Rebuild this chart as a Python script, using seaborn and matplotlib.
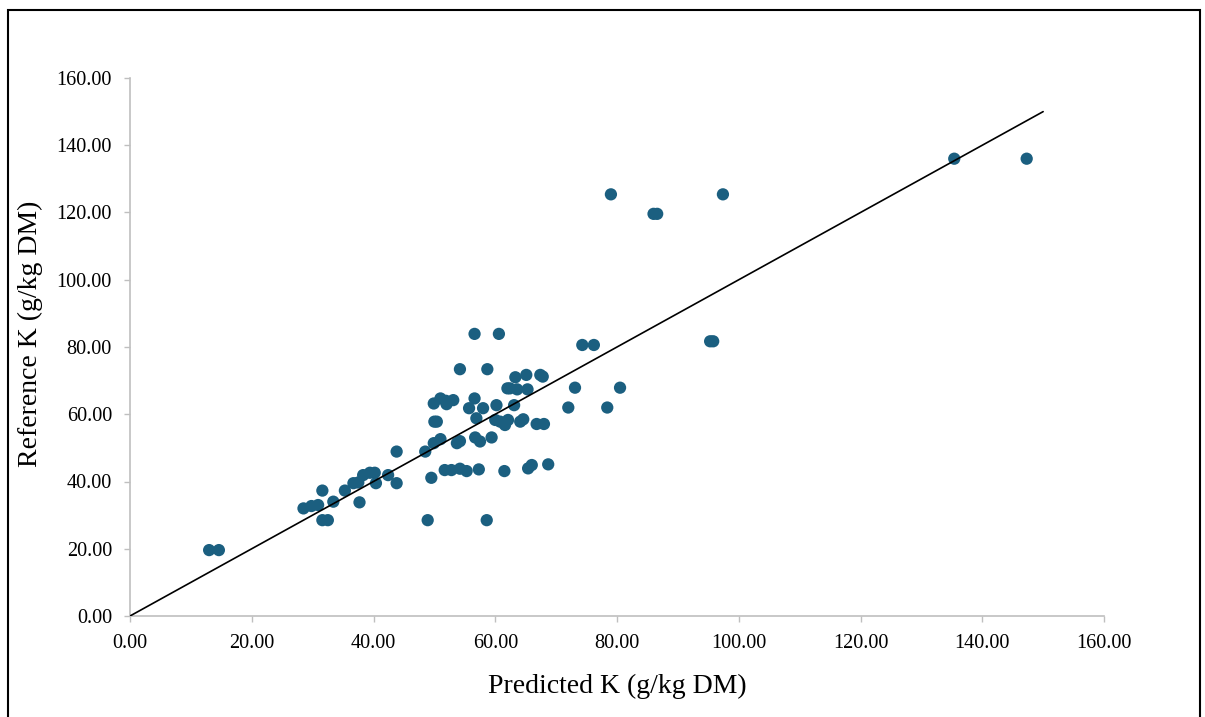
import matplotlib
matplotlib.use("Agg")
import matplotlib.pyplot as plt
import matplotlib.patches as mpatches
from matplotlib.ticker import FormatStrFormatter
import seaborn as sns
import pandas as pd

predicted_k = [13.0, 14.6, 28.5, 29.8, 30.9, 31.6, 32.5, 31.6, 33.4, 35.3,
               36.7, 37.5, 37.7, 38.3, 39.4, 40.2, 40.4, 42.4, 43.8, 43.8,
               48.5, 48.9, 49.5, 49.9, 51.0, 50.0, 50.4, 49.9, 51.0, 51.9,
               52.0, 53.1, 51.7, 52.8, 54.2, 55.3, 57.3, 53.7, 54.2, 54.2,
               55.7, 56.6, 56.6, 56.7, 57.5, 56.9, 58.0, 58.6, 58.7, 59.4,
               60.0, 60.2, 60.6, 60.8, 61.5, 61.6, 62.1, 62.0, 62.4, 63.1,
               63.3, 63.6, 64.1, 64.6, 65.1, 65.3, 65.4, 66.0, 66.8, 68.0,
               67.4, 67.8, 68.7, 72.0, 73.1, 74.3, 76.2, 78.4, 80.5, 79.0,
               86.0, 86.6, 95.3, 95.8, 97.4, 135.4, 147.3]
reference_k = [19.6, 19.6, 32.0, 32.7, 33.0, 28.5, 28.5, 37.3, 34.0, 37.3,
               39.5, 39.7, 33.8, 41.9, 42.6, 42.6, 39.5, 41.9, 39.5, 48.9,
               48.9, 28.5, 41.1, 51.4, 52.6, 57.8, 57.8, 63.2, 64.7, 64.0,
               63.0, 64.2, 43.4, 43.4, 43.8, 43.1, 43.6, 51.4, 52.0, 73.4,
               61.8, 64.7, 83.9, 53.1, 51.9, 58.8, 61.8, 28.5, 73.4, 53.1,
               58.3, 62.7, 83.9, 57.8, 43.1, 56.8, 58.3, 67.7, 67.7, 62.7,
               71.0, 67.4, 57.8, 58.5, 71.7, 67.4, 43.9, 44.9, 57.1, 57.1,
               71.7, 71.2, 45.1, 62.0, 67.9, 80.6, 80.6, 62.0, 67.9, 125.4,
               119.6, 119.6, 81.7, 81.7, 125.4, 136.0, 136.0]

line_x = [0.0, 150.0]
line_y = [0.0, 150.0]

x_ticks = [0, 20, 40, 60, 80, 100, 120, 140, 160]
y_ticks = [0, 20, 40, 60, 80, 100, 120, 140, 160]

x_label = "Predicted K (g/kg DM)"
y_label = "Reference K (g/kg DM)"

df = pd.DataFrame({"pred": predicted_k, "ref": reference_k})

sns.set_theme(style="white")
plt.rcParams["font.family"] = ["Liberation Serif", "DejaVu Serif"]

fig = plt.figure(figsize=(12.05, 7.17), dpi=100)
W, H = 1205, 717
ax = fig.add_axes([130 / W, 1 - 616 / H, (1104 - 130) / W, (616 - 78) / H])

sns.lineplot(x=line_x, y=line_y, color="black", linewidth=1.2, ax=ax, zorder=3)
sns.scatterplot(data=df, x="pred", y="ref", color="#1b5f80", s=78,
                edgecolor="none", linewidth=0, ax=ax, zorder=2)

ax.set_xlim(0, 160)
ax.set_ylim(0, 160)
ax.set_xticks(x_ticks)
ax.set_yticks(y_ticks)
ax.xaxis.set_major_formatter(FormatStrFormatter("%.2f"))
ax.yaxis.set_major_formatter(FormatStrFormatter("%.2f"))

for side in ["top", "right"]:
    ax.spines[side].set_visible(False)
for side in ["left", "bottom"]:
    ax.spines[side].set_color("#BFBFBF")
    ax.spines[side].set_linewidth(1.2)

ax.tick_params(axis="both", which="major", direction="out", length=4,
               width=1.0, color="#BFBFBF", labelsize=14.6, labelcolor="black",
               pad=9)
ax.tick_params(axis="x", bottom=True)
ax.tick_params(axis="y", left=True)

ax.set_xlabel("")
ax.set_ylabel("")
fig.text(617 / W, 1 - 686 / H, x_label, ha="center", va="center",
         fontsize=20, color="black")
fig.text(30 / W, 1 - 334 / H, y_label, ha="center", va="center",
         rotation=90, fontsize=20, color="black")

border = mpatches.Rectangle((8 / W, -0.01), (1200 - 8) / W, 1 - 10 / H + 0.01,
                            transform=fig.transFigure, fill=False,
                            edgecolor="black", linewidth=1.5)
fig.patches.append(border)

fig.savefig("out.png", dpi=100, facecolor="white")
